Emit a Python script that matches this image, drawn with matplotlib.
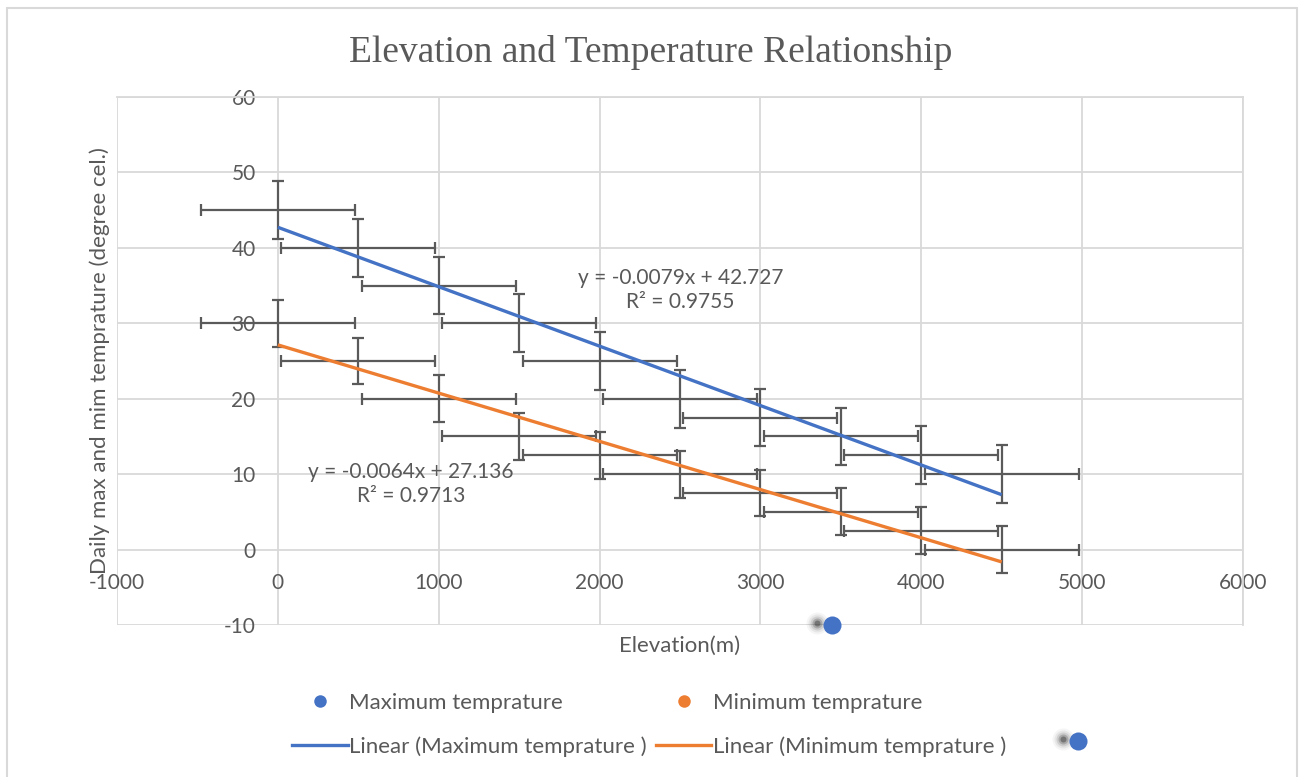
import numpy as np
import matplotlib
matplotlib.use("Agg")
import matplotlib.pyplot as plt
from matplotlib.lines import Line2D
from matplotlib.patches import Rectangle
from matplotlib.transforms import offset_copy

# data
elevation = [0, 500, 1000, 1500, 2000, 2500, 3000, 3500, 4000, 4500]
max_temp = [45, 40, 35, 30, 25, 20, 17.5, 15, 12.5, 10]
min_temp = [30, 25, 20, 15, 12.5, 10, 7.5, 5, 2.5, 0]

max_eq = "y = -0.0079x + 42.727\nR² = 0.9755"
min_eq = "y = -0.0064x + 27.136\nR² = 0.9713"
max_eq_pos = (2503, 34.4)
min_eq_pos = (826, 8.7)

# two stray blue dots (with shadow) that sit on the original picture
stray_x = [3447, 4975]
stray_y = [-10, -25.4]

BLUE = "#4472C4"
ORANGE = "#ED7D31"
GREY = "#595959"
GRID = "#D9D9D9"

plt.rcParams['font.family'] = ['Lato', 'DejaVu Sans']
plt.rcParams['axes.unicode_minus'] = False


def std_err(v):
    v = np.asarray(v, dtype=float)
    return v.std(ddof=1) / np.sqrt(len(v))


def main():
    fig = plt.figure(figsize=(13.01, 7.77), dpi=100)
    ax = fig.add_axes([117 / 1301, 1 - 625 / 777, 1126 / 1301, 528 / 777])

    x = np.array(elevation, dtype=float)
    xerr = std_err(x)

    for y, col in [(max_temp, BLUE), (min_temp, ORANGE)]:
        ax.errorbar(x, y, xerr=xerr, yerr=std_err(y), fmt='none',
                    ecolor="#5a5a5a", elinewidth=1.6, capsize=4.5, capthick=1.6,
                    zorder=2)
        k, b = np.polyfit(x, y, 1)
        xx = np.array([x.min(), x.max()])
        ax.plot(xx, k * xx + b, color=col, lw=2.4, zorder=3, solid_capstyle='butt')

    ax.text(*max_eq_pos, max_eq, ha='center', va='center', fontsize=15,
            color=GREY, linespacing=1.3, zorder=4)
    ax.text(*min_eq_pos, min_eq, ha='center', va='center', fontsize=15,
            color=GREY, linespacing=1.3, zorder=4)

    # stray dots with a blurred shadow
    shadow = offset_copy(ax.transData, fig=fig, x=-15, y=2, units='dots')
    for ms, a in [(22, 0.04), (18, 0.06), (14, 0.1), (10, 0.18), (6, 0.3)]:
        ax.plot(stray_x, stray_y, 'o', ms=ms * 0.72, color='black', alpha=a,
                mec='none', transform=shadow, clip_on=False, zorder=5)
    ax.plot(stray_x, stray_y, 'o', ms=13, color=BLUE, mec='none',
            clip_on=False, zorder=6)

    ax.set_xlim(-1000, 6000)
    ax.set_ylim(-10, 60)
    ax.set_xticks(np.arange(-1000, 6001, 1000))
    ax.set_yticks(np.arange(-10, 61, 10))
    ax.grid(True, color=GRID, lw=1.3)
    ax.set_axisbelow(True)

    ax.spines['left'].set_position(('data', 0))
    ax.spines['bottom'].set_position(('data', 0))
    ax.spines['left'].set_visible(False)
    ax.spines['bottom'].set_visible(False)
    ax.spines['top'].set_color(GRID)
    ax.spines['right'].set_color(GRID)
    ax.spines['top'].set_linewidth(1.3)
    ax.spines['right'].set_linewidth(1.3)

    ax.tick_params(axis='both', length=0, labelsize=15, labelcolor=GREY)
    ax.tick_params(axis='y', pad=16)
    ax.tick_params(axis='x', pad=17)

    ax.set_xlabel("Elevation(m)", fontsize=16, color=GREY)
    ax.xaxis.set_label_coords(0.5, -0.02)
    ax.set_ylabel("Daily max and mim temprature (degree cel.)", fontsize=16, color=GREY)
    ax.yaxis.set_label_coords(-0.006, 0.5)

    fig.suptitle("Elevation and Temperature Relationship", x=651 / 1301, y=1 - 53 / 777,
                 va='center', fontsize=27, color=GREY, family='Liberation Serif')

    handles = [
        Line2D([], [], ls='none', marker='o', ms=9, color=BLUE, mec='none'),
        Line2D([], [], color=BLUE, lw=2.4),
        Line2D([], [], ls='none', marker='o', ms=9, color=ORANGE, mec='none'),
        Line2D([], [], color=ORANGE, lw=2.4),
    ]
    labels = ["Maximum temprature", "Linear (Maximum temprature )",
              "Minimum temprature", "Linear (Minimum temprature )"]
    leg = fig.legend(handles, labels, ncol=2, loc='upper left',
                     bbox_to_anchor=(292 / 1301, 1 - 693 / 777), frameon=False,
                     fontsize=16, handlelength=2.5, handletextpad=0.08,
                     columnspacing=0.4, labelspacing=1.05, borderpad=0,
                     borderaxespad=0)
    for t in leg.get_texts():
        t.set_color(GREY)

    fig.patches.append(Rectangle((7 / 1301, -0.02), 1290 / 1301, 1 - 8 / 777 + 0.02,
                                 transform=fig.transFigure, fill=False,
                                 edgecolor=GRID, lw=1.5))

    fig.savefig("out.png", dpi=100)


if __name__ == "__main__":
    main()
